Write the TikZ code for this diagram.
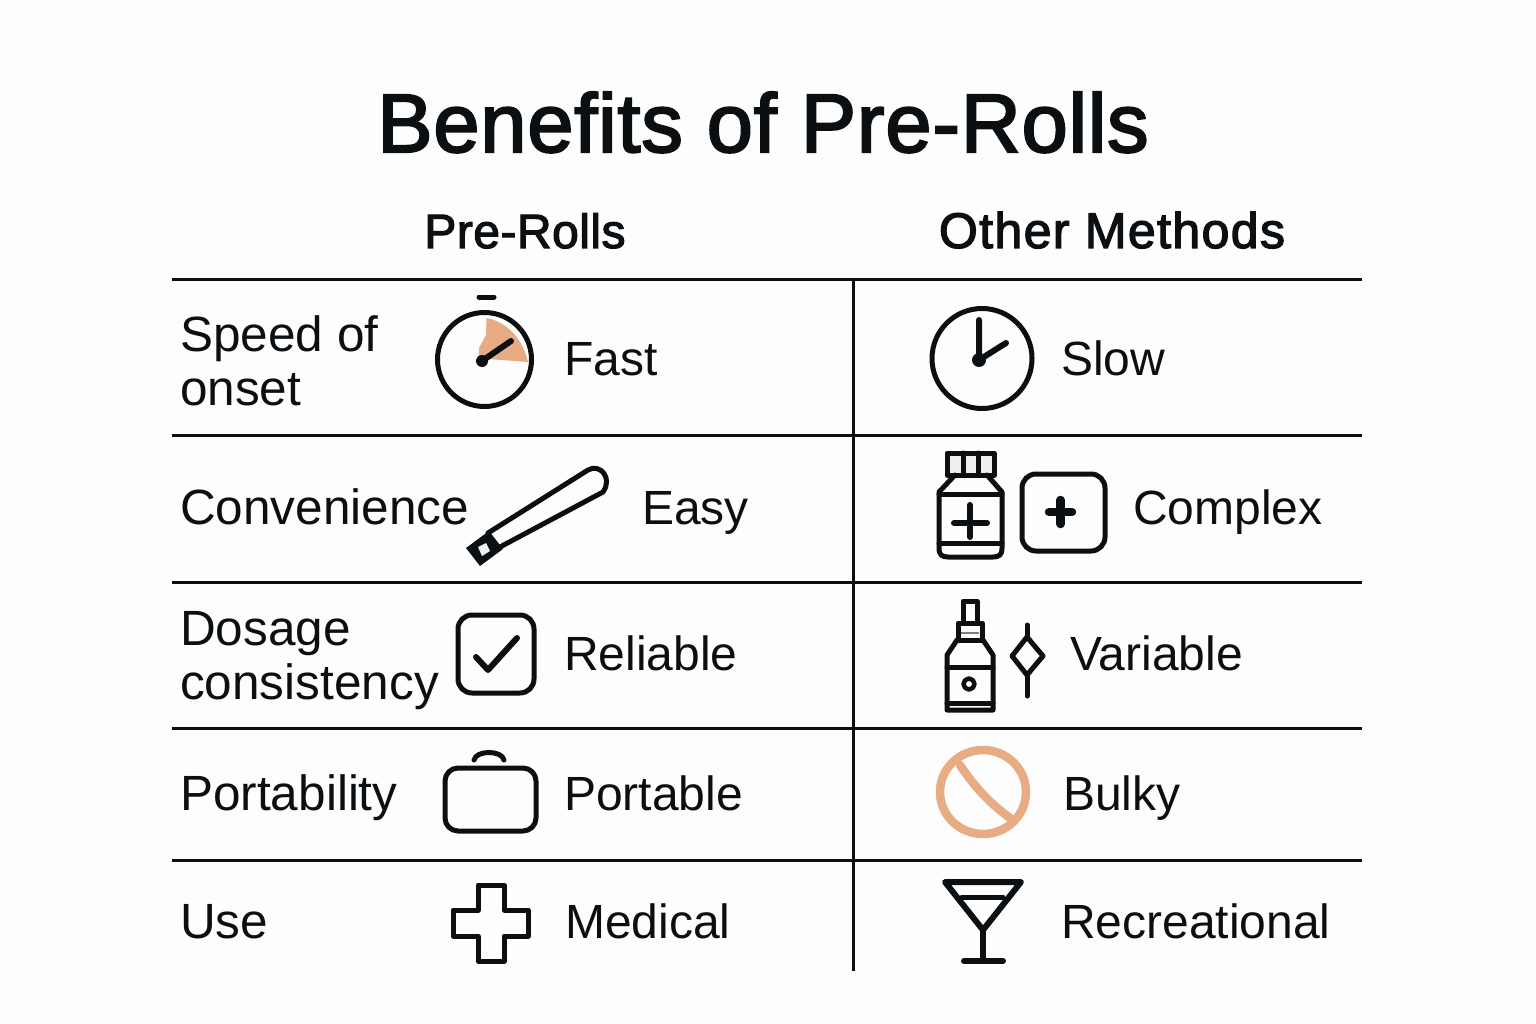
\documentclass[tikz,border=0pt]{standalone}
\usepackage{fontspec}
\setmainfont{Liberation Sans}
\newfontfamily\headfont[FakeBold=2.5,LetterSpace=1]{Liberation Sans}
\newfontfamily\wideheadfont[FakeBold=2.5,LetterSpace=2.8]{Liberation Sans}
\usetikzlibrary{
  positioning,
  calc
}
\definecolor{pagebg}{HTML}{FDFDFD}
\definecolor{ink}{HTML}{0C0F12}
\definecolor{peach}{HTML}{E8AC84}
\definecolor{capgrey}{HTML}{EFEFEF}

\begin{document}
\begin{tikzpicture}[
      x=1pt, y=-1pt,
      title/.style={anchor=base, inner sep=0pt, text=ink, font=\headfont\fontsize{83}{90}\selectfont},
      colhead/.style={anchor=base, inner sep=0pt, text=ink, font=\headfont\fontsize{48}{54}\selectfont},
      rowlabel/.style={anchor=base west, inner sep=0pt, text=ink, align=left, font=\fontsize{49.5}{54}\selectfont},
      cell/.style={anchor=base west, inner sep=0pt, text=ink, font=\fontsize{48}{54}\selectfont},
      rule/.style={draw=ink, line width=3pt},
      icon/.style={draw=ink, line width=5pt, line cap=round, line join=round},
      hand/.style={icon, line width=6pt}
    ]
      \fill[pagebg] (0,0) rectangle (1536,1024);
      \useasboundingbox (0,0) rectangle (1536,1024);

      % Headings
      \node[title] (heading) at (763,152) {Benefits of Pre-Rolls};
      \node[colhead] (prerolls) at (525,248) {Pre-Rolls};
      \node[colhead, font=\wideheadfont\fontsize{50}{54}\selectfont] (others) at (1112,248) {Other Methods};

      % Rules
      \foreach \ypos/\rname in {280/a,435/b,582/c,728/d,860/e} {
        \coordinate (\rname L) at (172,\ypos);
        \coordinate (\rname R) at (1362,\ypos);
        \draw[rule] (\rname L) -- (\rname R);
      }
      \coordinate (divtop) at (853,280);
      \coordinate (divbot) at (853,971);
      \draw[rule] (divtop) -- (divbot);

      % Row labels
      \node[rowlabel] (speed) at (180,351) {Speed of};
      \node[rowlabel] (onset) at (180,405) {onset};
      \node[rowlabel] (conv) at (180,524) {Convenience};
      \node[rowlabel] (dosage) at (180,645) {Dosage};
      \node[rowlabel] (consist) at (180,699) {consistency};
      \node[rowlabel] (port) at (180,810) {Portability};
      \node[rowlabel] (use) at (180,938) {Use};

      % Cell texts
      \node[cell] (fast) at (564,375) {Fast};
      \node[cell] (easy) at (642,524) {Easy};
      \node[cell] (reliable) at (564,670) {Reliable};
      \node[cell] (portable) at (564,810) {Portable};
      \node[cell] (medical) at (565,938) {Medical};
      \node[cell] (slow) at (1061,375) {Slow};
      \node[cell] (complex) at (1133,524) {Complex};
      \node[cell] (variable) at (1070,670) {Variable};
      \node[cell] (bulky) at (1063,810) {Bulky};
      \node[cell] (recreational) at (1061,938) {Recreational};

      % Stopwatch
      \fill[peach] (486.5,318) .. controls (508,322) and (523,340) .. (528,362)
        -- (488,359) -- (478,365) -- (479,348) -- (486,335) -- cycle;
      \draw[icon] (484.5,359.5) circle (47);
      \draw[icon] (479,297) -- (494,297);
      \draw[hand] (482,361) -- (511,341);
      \fill[ink] (482,361) circle (6);

      % Joint
      \draw[icon] (488,533) -- (588,470) .. controls (600,463) and (613,478) .. (603,492) -- (500,547);
      \fill[ink] (466,548) -- (489,531) -- (503,549) -- (480,566) -- cycle;
      \fill[capgrey] (478,547) -- (486,543) -- (490,551) -- (482,556) -- cycle;

      % Clock
      \draw[icon] (982,358.5) circle (50);
      \draw[hand] (979,320) -- (979,360) -- (1006,343);
      \fill[ink] (979,360) circle (7);

      % Pill bottle and box
      \filldraw[icon, fill=capgrey] (947,453) rectangle (994,475);
      \draw[icon, line width=5pt] (963,453) -- (963,475) (978,453) -- (978,475);
      \draw[icon] (955,475) -- (939,492) -- (939,548) .. controls (939,555) and (942,557) .. (948,557)
        -- (993,557) .. controls (999,557) and (1002,555) .. (1002,548) -- (1002,492) -- (987,475);
      \draw[icon, line width=5pt] (939,494) -- (1002,494) (939,543) -- (1002,543);
      \draw[hand] (954,523) -- (987,523) (970,505) -- (970,537);
      \draw[icon, rounded corners=14pt] (1022,474) rectangle (1105,551);
      \draw[hand, line width=8.5pt] (1049,512) -- (1072,512) (1060.5,500) -- (1060.5,524);

      % Spray bottle and drop
      \draw[icon, line width=5pt] (963,622) -- (963,601) -- (977,601) -- (977,622);
      \draw[icon, line width=5pt] (958,623) rectangle (982,640);
      \draw[gray, line width=1.5pt] (961,633) -- (979,633);
      \draw[icon] (957,640) -- (947,655) -- (947,710) -- (993,710) -- (993,655) -- (983,640);
      \draw[icon, line width=5pt] (947,667) -- (993,667) (947,703) -- (993,703);
      \draw[icon, line width=4.5pt] (969,684) circle (5.5);
      \draw[icon] (1027,637) -- (1012,656) -- (1027,675) -- (1043,656) -- cycle;
      \draw[icon] (1027,625) -- (1027,637) (1027,675) -- (1027,696);

      % Check box
      \draw[icon, rounded corners=14pt] (458,615) rectangle (534,693);
      \draw[hand] (476,657) -- (488,670) -- (517,638);

      % Briefcase
      \draw[icon, rounded corners=13pt] (445,768) rectangle (536,831);
      \draw[icon] (474,760) .. controls (476,750) and (502,750) .. (504,760);

      % No sign
      \draw[peach, line width=8.5pt] (983,792) ellipse (43 and 42);
      \draw[peach, line width=8.5pt, line cap=round] (960,765) .. controls (975,788) and (992,805) .. (1010,818);

      % Cross
      \draw[icon] (478,885) -- (504,885) -- (504,910) -- (528,910) -- (528,936) -- (504,936)
        -- (504,961) -- (478,961) -- (478,936) -- (453,936) -- (453,910) -- (478,910) -- cycle;

      % Cocktail glass
      \draw[hand] (945,882) -- (1021,882) -- (983,930) -- cycle;
      \draw[icon, line width=5pt] (962,897) -- (1003,897);
      \draw[hand] (983,930) -- (983,961) (964,961) -- (1003,961);
    \end{tikzpicture}
\end{document}
